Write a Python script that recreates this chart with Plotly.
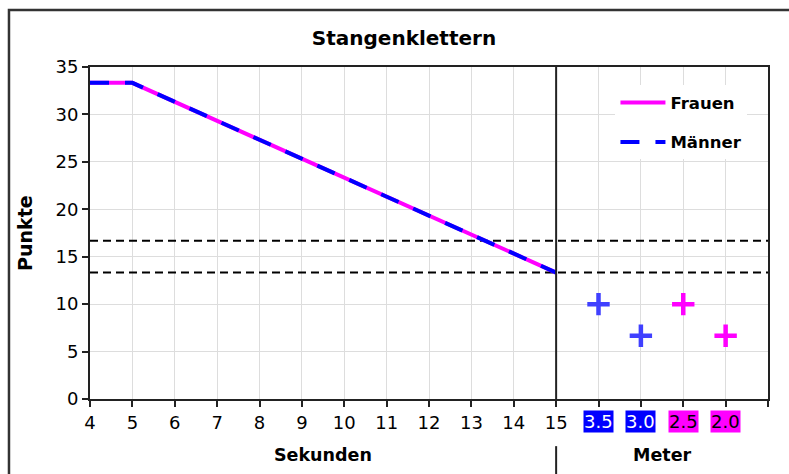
import plotly.graph_objects as go

# Punkte über Sekunden (Zeit am Stangenklettern)
seconds = [4, 5, 15]
points = [33.33, 33.33, 13.33]

# Grenzlinien
threshold_levels = [16.67, 13.33]

# Meter-Bereich: Kategorien auf der erweiterten x-Achse
meter_labels = ["3.5", "3.0", "2.5", "2.0"]
meter_pos = [16, 17, 18, 19]
meter_points = [10, 6.67, 10, 6.67]
meter_group = ["Männer", "Männer", "Frauen", "Frauen"]

x_ticks = list(range(4, 21))
x_ticktext = [str(v) if v <= 15 else "" for v in x_ticks]
y_ticks = list(range(0, 36, 5))

MAGENTA = "#ff00ff"
BLUE = "#0000ff"
MARK_BLUE = "#4040ff"
FONT = "DejaVu Sans"
TICK_SIZE = 18

fig = go.Figure()

for lvl in threshold_levels:
    fig.add_trace(go.Scatter(
        x=[4, 20], y=[lvl, lvl], mode="lines", showlegend=False,
        line=dict(color="black", width=2, dash="8px,5px"), hoverinfo="skip"))

fig.add_trace(go.Scatter(
    x=seconds, y=points, mode="lines", name="<b>Frauen</b>", legendgroup="f",
    line=dict(color=MAGENTA, width=4)))
fig.add_trace(go.Scatter(
    x=seconds, y=points, mode="lines", name="<b>Männer</b>", legendgroup="m",
    line=dict(color=BLUE, width=4, dash="19px,16px")))

for xp, yp, grp in zip(meter_pos, meter_points, meter_group):
    col = MARK_BLUE if grp == "Männer" else MAGENTA
    fig.add_trace(go.Scatter(
        x=[xp], y=[yp], mode="markers", showlegend=False,
        marker=dict(symbol="cross-thin", size=16,
                    line=dict(color=col, width=4.5))))

# Farbig hinterlegte Meter-Beschriftungen
annotations = []
for xp, lab, grp in zip(meter_pos, meter_labels, meter_group):
    if grp == "Männer":
        bg, fg = BLUE, "white"
    else:
        bg, fg = MAGENTA, "black"
    annotations.append(dict(
        x=xp, y=-0.069, xref="x", yref="paper", text=lab, showarrow=False,
        font=dict(family=FONT, size=TICK_SIZE, color=fg), bgcolor=bg,
        borderpad=0, yanchor="middle"))

annotations += [
    dict(x=9.5, y=-0.168, xref="x", yref="paper", text="<b>Sekunden</b>",
         showarrow=False, font=dict(family=FONT, size=17.5, color="black"),
         yanchor="middle"),
    dict(x=17.5, y=-0.168, xref="x", yref="paper", text="<b>Meter</b>",
         showarrow=False, font=dict(family=FONT, size=17.5, color="black"),
         yanchor="middle"),
    dict(x=-0.096, y=0.5, xref="paper", yref="paper", text="<b>Punkte</b>",
         textangle=-90, showarrow=False,
         font=dict(family=FONT, size=19, color="black"),
         xanchor="center", yanchor="middle"),
]

shapes = [
    # Trennlinie Sekunden / Meter
    dict(type="line", xref="x", yref="paper", x0=15, x1=15, y0=0, y1=1,
         line=dict(color="#222", width=2)),
    dict(type="line", xref="x", yref="paper", x0=15, x1=15, y0=-0.142,
         y1=-0.25, line=dict(color="#222", width=2)),
    # Rahmen
    dict(type="rect", xref="paper", yref="paper", x0=-0.1195, x1=1.2,
         y0=-0.4, y1=1.1717, line=dict(color="#333", width=2.5)),
]

fig.update_layout(
    width=789, height=474,
    margin=dict(l=90, r=21, t=67, b=75),
    paper_bgcolor="white", plot_bgcolor="white",
    font=dict(family=FONT, size=TICK_SIZE, color="black"),
    title=dict(text="<b>Stangenklettern</b>", x=404 / 789, xanchor="center",
               y=1 - 38 / 474, yanchor="middle",
               font=dict(family=FONT, size=20, color="black")),
    legend=dict(x=0.775, y=0.945, xanchor="left", yanchor="top",
                bgcolor="white", borderwidth=0, itemwidth=45,
                font=dict(family=FONT, size=16.5, color="black"),
                traceorder="grouped", tracegroupgap=15),
    annotations=annotations,
    shapes=shapes,
    showlegend=True,
)

fig.update_xaxes(
    range=[4, 20], tickvals=x_ticks, ticktext=x_ticktext,
    showgrid=True, gridcolor="#dddddd", gridwidth=1,
    showline=True, linecolor="#222", linewidth=2, mirror=True,
    ticks="outside", ticklen=6, tickwidth=2, tickcolor="#222",
    zeroline=False, tickfont=dict(family=FONT, size=TICK_SIZE))
fig.update_yaxes(
    range=[0, 35], tickvals=y_ticks,
    showgrid=True, gridcolor="#dddddd", gridwidth=1,
    showline=True, linecolor="#222", linewidth=2, mirror=True,
    ticks="outside", ticklen=6, tickwidth=2, tickcolor="#222",
    zeroline=False, tickfont=dict(family=FONT, size=TICK_SIZE))

fig.write_html("out.html")
